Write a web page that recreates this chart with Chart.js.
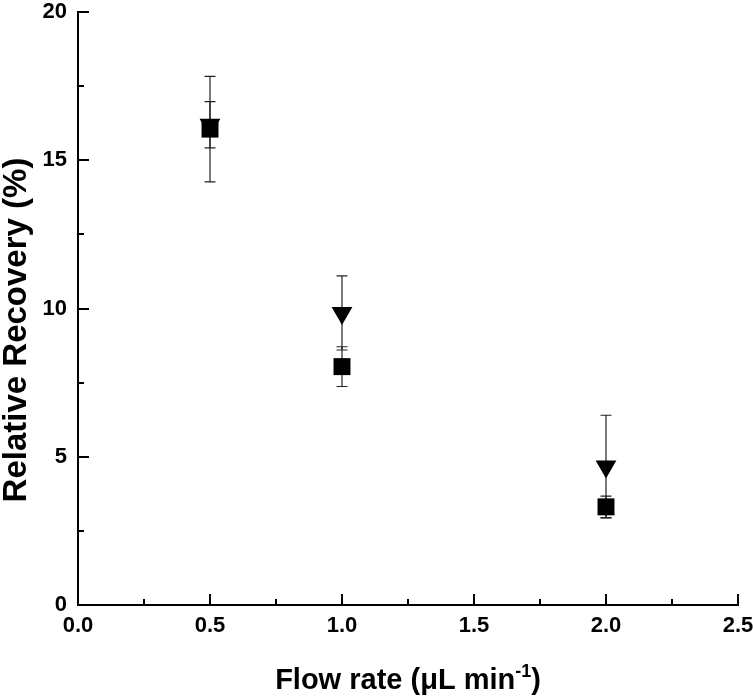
<!DOCTYPE html>
<html lang="en">
<head>
  <meta charset="UTF-8">
  <title>Relative Recovery vs Flow rate</title>
  <script src="https://cdn.jsdelivr.net/npm/chart.js@4.4.1/dist/chart.umd.min.js"></script>
  <style>
    html, body { margin: 0; padding: 0; background: #fff; }
    #wrap { width: 753px; height: 699px; }
  </style>
</head>
<body>
  <div id="wrap"><canvas id="chart" width="753" height="699"></canvas></div>
  <script>
    // values
    const flowRates = [0.5, 1.0, 2.0];
    const squareVals = [16.05, 8.04, 3.31];
    const squareErr = [1.78, 0.67, 0.36];
    const triangleVals = [16.2, 9.85, 4.67];
    const triangleErr = [0.78, 1.25, 1.73];

    const xTicks = [0, 0.5, 1.0, 1.5, 2.0, 2.5];
    const yTicks = [0, 5, 10, 15, 20];

    const FONT = '"Liberation Sans", Arial, sans-serif';

    // error bars drawn behind the markers
    const errorBars = {
      id: 'errorBars',
      beforeDatasetsDraw(chart) {
        const ctx = chart.ctx;
        const x = chart.scales.x, y = chart.scales.y;
        const sets = [[squareVals, squareErr], [triangleVals, triangleErr]];
        ctx.save();
        ctx.strokeStyle = '#222';
        ctx.lineWidth = 1.2;
        sets.forEach(([vals, errs]) => {
          vals.forEach((v, i) => {
            const px = x.getPixelForValue(flowRates[i]);
            const top = y.getPixelForValue(v + errs[i]);
            const bot = y.getPixelForValue(v - errs[i]);
            ctx.beginPath();
            ctx.moveTo(px, top); ctx.lineTo(px, bot);
            ctx.moveTo(px - 5.5, top); ctx.lineTo(px + 5.5, top);
            ctx.moveTo(px - 5.5, bot); ctx.lineTo(px + 5.5, bot);
            ctx.stroke();
          });
        });
        ctx.restore();
      }
    };

    // inward ticks, axis titles
    const axisDecor = {
      id: 'axisDecor',
      afterDraw(chart) {
        const ctx = chart.ctx;
        const x = chart.scales.x, y = chart.scales.y;
        const a = chart.chartArea;
        ctx.save();
        ctx.strokeStyle = '#000';
        ctx.lineWidth = 2;
        ctx.beginPath();
        for (let v = 0; v <= 2.5001; v += 0.25) {
          const px = Math.round(x.getPixelForValue(v));
          const major = Math.abs(v / 0.5 - Math.round(v / 0.5)) < 1e-6;
          ctx.moveTo(px, a.bottom);
          ctx.lineTo(px, a.bottom - (major ? 11 : 6));
        }
        for (let v = 0; v <= 20.001; v += 2.5) {
          const py = Math.round(y.getPixelForValue(v));
          const major = v % 5 === 0;
          ctx.moveTo(a.left, py);
          ctx.lineTo(a.left + (major ? 11 : 6), py);
        }
        ctx.stroke();

        ctx.fillStyle = '#000';
        // x title with superscript
        ctx.font = 'bold 29px ' + FONT;
        const main = 'Flow rate (\u03bcL min';
        const sup = '-1';
        const close = ')';
        const wMain = ctx.measureText(main).width;
        const wClose = ctx.measureText(close).width;
        ctx.font = 'bold 18px ' + FONT;
        const wSup = ctx.measureText(sup).width;
        const total = wMain + wSup + wClose;
        let tx = (a.left + a.right) / 2 - total / 2;
        const base = 689;
        ctx.textBaseline = 'alphabetic';
        ctx.textAlign = 'left';
        ctx.font = 'bold 29px ' + FONT;
        ctx.fillText(main, tx, base);
        tx += wMain;
        ctx.font = 'bold 18px ' + FONT;
        ctx.fillText(sup, tx, base - 12);
        tx += wSup;
        ctx.font = 'bold 29px ' + FONT;
        ctx.fillText(close, tx, base);

        // y title
        ctx.translate(26, 330);
        ctx.rotate(-Math.PI / 2);
        ctx.font = 'bold 33px ' + FONT;
        ctx.textAlign = 'center';
        ctx.fillText('Relative Recovery (%)', 0, 0);
        ctx.restore();
      }
    };

    new Chart(document.getElementById('chart'), {
      type: 'scatter',
      data: {
        datasets: [
          {
            label: 'square',
            data: flowRates.map((f, i) => ({ x: f, y: squareVals[i] })),
            pointStyle: 'rect',
            pointRadius: 12,
            pointHoverRadius: 12,
            backgroundColor: '#000',
            borderColor: '#000',
            borderWidth: 0
          },
          {
            label: 'triangle',
            data: flowRates.map((f, i) => ({ x: f, y: triangleVals[i] })),
            pointStyle: 'triangle',
            rotation: 180,
            pointRadius: 12,
            pointHoverRadius: 12,
            backgroundColor: '#000',
            borderColor: '#000',
            borderWidth: 0
          }
        ]
      },
      options: {
        responsive: false,
        animation: false,
        events: [],
        layout: { padding: { top: 11, right: 15, left: 0, bottom: 0 } },
        plugins: {
          legend: { display: false },
          tooltip: { enabled: false },
          title: { display: false }
        },
        scales: {
          x: {
            type: 'linear',
            min: 0,
            max: 2.5,
            afterBuildTicks(scale) { scale.ticks = xTicks.map(v => ({ value: v })); },
            afterFit(scale) {
              scale.height = 94;
              scale.paddingLeft = 0;
              scale.paddingRight = 0;
            },
            grid: { display: false, drawTicks: false },
            border: { display: true, color: '#000', width: 2 },
            ticks: {
              padding: 8,
              color: '#000',
              font: { family: FONT, size: 22, weight: 'bold' },
              callback: v => v.toFixed(1)
            }
          },
          y: {
            type: 'linear',
            min: 0,
            max: 20,
            afterBuildTicks(scale) { scale.ticks = yTicks.map(v => ({ value: v })); },
            afterFit(scale) {
              scale.width = 78;
              scale.paddingTop = 0;
              scale.paddingBottom = 0;
            },
            grid: { display: false, drawTicks: false },
            border: { display: true, color: '#000', width: 2 },
            ticks: {
              padding: 11,
              color: '#000',
              font: { family: FONT, size: 22, weight: 'bold' },
              callback: v => String(v)
            }
          }
        }
      },
      plugins: [errorBars, axisDecor]
    });
  </script>
</body>
</html>
